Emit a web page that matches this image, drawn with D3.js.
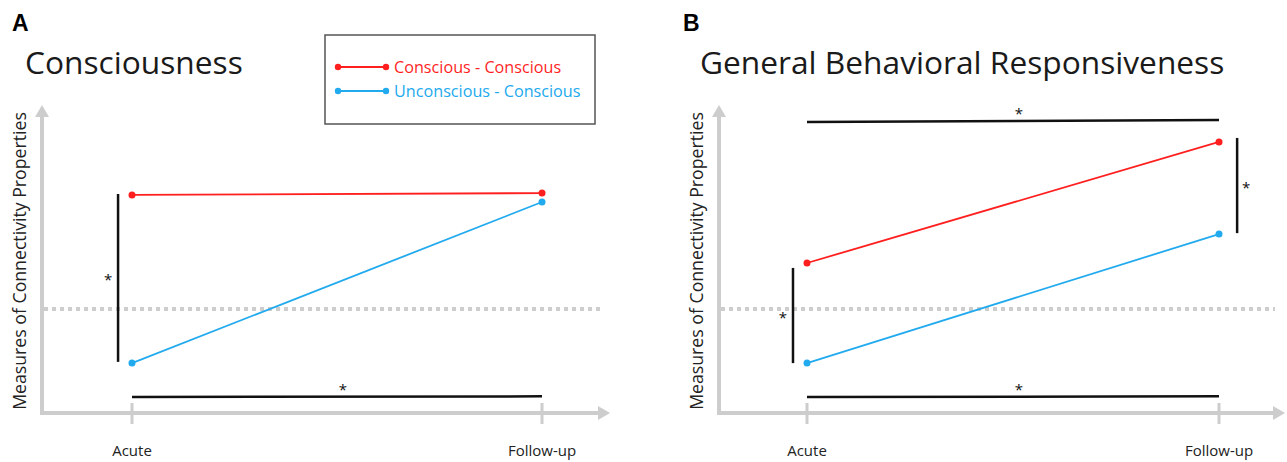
<!DOCTYPE html>
<html>
<head>
<meta charset="utf-8">
<script src="https://cdn.jsdelivr.net/npm/d3@7"></script>
<style>
  body { margin: 0; background: #fff; }
  svg { display: block; font-family: "Open Sans", "Noto Sans", sans-serif; }
</style>
</head>
<body>
<div id="chart"></div>
<script>
// data (y in arbitrary units 0..100, x: 0 = Acute, 1 = Follow-up)
const timepoints = ["Acute", "Follow-up"];
const seriesNames = ["Conscious - Conscious", "Unconscious - Conscious"];
const seriesColors = ["#ff1f1f", "#22aaee"];
const panelLetters = ["A", "B"];
const panelTitles = ["Consciousness", "General Behavioral Responsiveness"];
const yLabel = "Measures of Connectivity Properties";
const referenceLevel = 33.8;

// values per panel, per series [acute, follow-up]
const consciousnessValues = [[70.8, 71.4], [16.2, 68.5]];
const behaviorValues = [[48.7, 88.0], [16.2, 58.1]];

// significance markers: x0,x1 (time units), y0,y1 (value units)
const consciousnessSig = [
  { x0: -0.034, x1: -0.034, y0: 71.1, y1: 16.6 },
  { x0: 0, x1: 1, y0: 5.2, y1: 5.4 }
];
const behaviorSig = [
  { x0: 0, x1: 1, y0: 94.5, y1: 95.1 },
  { x0: -0.034, x1: -0.034, y0: 47.1, y1: 16.2 },
  { x0: 1.044, x1: 1.044, y0: 89.3, y1: 58.4 },
  { x0: 0, x1: 1, y0: 5.2, y1: 5.4 }
];

const W = 1287, H = 462;
const svg = d3.select("#chart").append("svg").attr("width", W).attr("height", H);

const axisGray = "#cdcdcd";
const panels = [
  { ox: 42, acute: 132, follow: 542, xEnd: 610, dotEnd: 600, values: consciousnessValues, sig: consciousnessSig, titleX: 25, letterX: 12 },
  { ox: 719, acute: 807, follow: 1219, xEnd: 1285, dotEnd: 1275, values: behaviorValues, sig: behaviorSig, titleX: 700, letterX: 683 }
];

const y = d3.scaleLinear().domain([0, 100]).range([413, 105]);

panels.forEach((p, pi) => {
  const g = svg.append("g");
  const x = d3.scaleLinear().domain([0, 1]).range([p.acute, p.follow]);
  const base = y(0);

  // letter + title
  g.append("text").attr("x", p.letterX).attr("y", 31)
    .style("font-family", "Liberation Sans, Arial, sans-serif")
    .style("font-weight", 700).style("font-size", "23px").text(panelLetters[pi]);
  g.append("text").attr("x", p.titleX).attr("y", 74)
    .style("font-size", "31.7px").style("fill", "#1a1a1a").text(panelTitles[pi]);

  // axes
  g.append("line").attr("x1", p.ox).attr("x2", p.ox).attr("y1", base + 2).attr("y2", y(100) + 8)
    .attr("stroke", axisGray).attr("stroke-width", 4);
  g.append("path")
    .attr("d", `M${p.ox - 7},${y(100) + 12} L${p.ox},${y(100)} L${p.ox + 7},${y(100) + 12} Z`)
    .attr("fill", axisGray);
  g.append("line").attr("x1", p.ox - 2).attr("x2", p.xEnd - 8).attr("y1", base).attr("y2", base)
    .attr("stroke", axisGray).attr("stroke-width", 4);
  g.append("path")
    .attr("d", `M${p.xEnd - 12},${base - 7} L${p.xEnd},${base} L${p.xEnd - 12},${base + 7} Z`)
    .attr("fill", axisGray);

  // ticks + labels
  timepoints.forEach((t, i) => {
    g.append("line").attr("x1", x(i)).attr("x2", x(i)).attr("y1", base - 10).attr("y2", base + 11)
      .attr("stroke", axisGray).attr("stroke-width", 3);
    g.append("text").attr("x", x(i)).attr("y", 456).attr("text-anchor", "middle")
      .style("font-size", "15px").style("fill", "#222").text(t);
  });

  // y label
  g.append("text")
    .attr("transform", `translate(${p.ox - 16},${(y(0) + y(100)) / 2 + 2}) rotate(-90)`)
    .attr("text-anchor", "middle").style("font-size", "17.7px").style("fill", "#222")
    .text(yLabel);

  // reference dotted line
  g.append("line").attr("x1", p.ox + 2).attr("x2", p.dotEnd)
    .attr("y1", y(referenceLevel)).attr("y2", y(referenceLevel))
    .attr("stroke", axisGray).attr("stroke-width", 4).attr("stroke-dasharray", "4,4");

  // significance lines + asterisks
  p.sig.forEach(s => {
    g.append("line").attr("x1", x(s.x0)).attr("x2", x(s.x1)).attr("y1", y(s.y0)).attr("y2", y(s.y1))
      .attr("stroke", "#111").attr("stroke-width", 2.5);
    const vertical = s.x0 === s.x1;
    const mx = (x(s.x0) + x(s.x1)) / 2, my = (y(s.y0) + y(s.y1)) / 2;
    const side = vertical && s.x0 > 0.5 ? 9 : -10;
    g.append("text")
      .attr("x", vertical ? mx + side : mx + 6)
      .attr("y", vertical ? my + 7 : my - 2)
      .attr("text-anchor", "middle").style("font-size", "15px").style("fill", "#111")
      .text("*");
  });

  // series
  p.values.forEach((vals, si) => {
    const line = d3.line().x((d, i) => x(i)).y(d => y(d));
    g.append("path").datum(vals).attr("d", line).attr("fill", "none")
      .attr("stroke", seriesColors[si]).attr("stroke-width", 1.8);
    g.selectAll(null).data(vals).join("circle")
      .attr("cx", (d, i) => x(i)).attr("cy", d => y(d)).attr("r", 3.5)
      .attr("fill", seriesColors[si]);
  });
});

// legend
const leg = svg.append("g").attr("transform", "translate(325,35)");
leg.append("rect").attr("width", 270).attr("height", 89)
  .attr("fill", "#fff").attr("stroke", "#555").attr("stroke-width", 1.5);
seriesNames.forEach((n, i) => {
  const ly = 32 + i * 24;
  leg.append("line").attr("x1", 13).attr("x2", 61).attr("y1", ly).attr("y2", ly)
    .attr("stroke", seriesColors[i]).attr("stroke-width", 1.8);
  [13, 61].forEach(cx => leg.append("circle").attr("cx", cx).attr("cy", ly).attr("r", 3.2).attr("fill", seriesColors[i]));
  leg.append("text").attr("x", 69).attr("y", ly + 6)
    .style("font-size", "16.2px").style("fill", seriesColors[i]).text(n);
});
</script>
</body>
</html>
